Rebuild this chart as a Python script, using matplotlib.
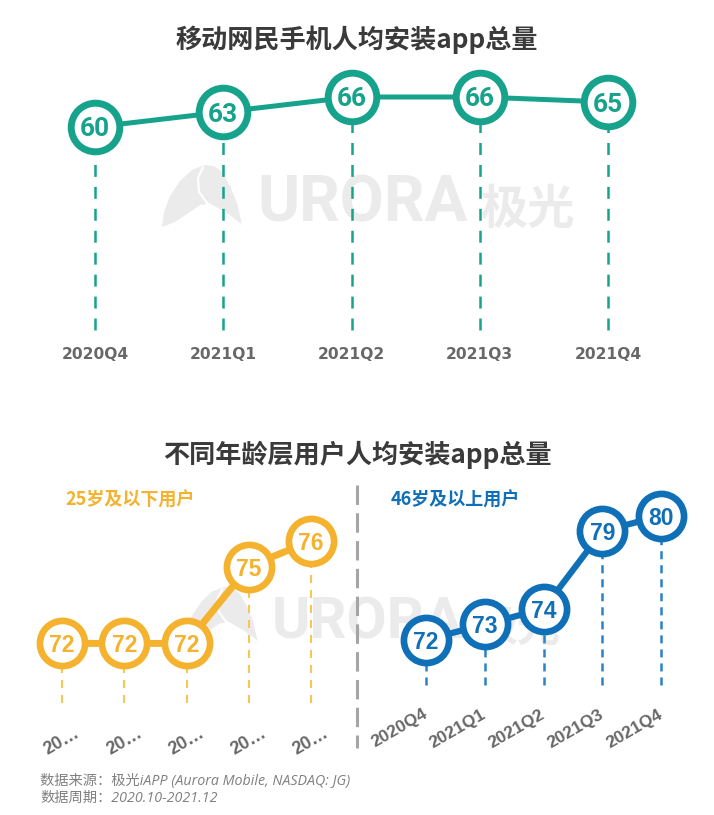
import matplotlib
matplotlib.use('Agg')
import matplotlib.pyplot as plt
from matplotlib.lines import Line2D
from matplotlib.patches import Polygon
import numpy as np

plt.rcParams['font.family'] = ['Noto Sans CJK SC', 'DejaVu Sans']
plt.rcParams['lines.scale_dashes'] = False

# ---------------- data ----------------
quarters = ['2020Q4', '2021Q1', '2021Q2', '2021Q3', '2021Q4']
all_users = [60, 63, 66, 66, 65]
young_users = [72, 72, 72, 75, 76]
senior_users = [72, 73, 74, 79, 80]
young_tick_labels = ['20…', '20…', '20…', '20…', '20…']

title_top = '移动网民手机人均安装app总量'
title_bottom = '不同年龄层用户人均安装app总量'
label_young = '25岁及以下用户'
label_senior = '46岁及以上用户'
footer_1 = '数据来源：极光iAPP (Aurora Mobile, NASDAQ: JG)'
footer_2 = '数据周期：2020.10-2021.12'

TEAL = '#17A38B'
ORANGE = '#F5B22E'
ORANGE_DASH = '#F8C657'
BLUE = '#0F70B7'
BLUE_DASH = '#2A83C6'
GRAY_TICK = '#686868'
WM = '#ebebeb'

W, H = 714, 815
fig = plt.figure(figsize=(W / 100, H / 100), dpi=100)


def fx(x):
    return x / W


def fy(y):
    return 1 - y / H


def px_axes(l, t, r, b):
    ax = fig.add_axes([l / W, 1 - b / H, (r - l) / W, (b - t) / H])
    ax.set_facecolor('none')
    for s in ax.spines.values():
        s.set_visible(False)
    ax.set_yticks([])
    ax.tick_params(axis='x', length=0)
    return ax


# ---------------- watermark ----------------
def watermark(x0, y0, s):
    outer = [(0, 62), (2, 47), (8, 31), (18, 16), (30, 5), (42, 0), (52, 1), (60, 7),
             (68, 21), (75, 38), (80, 60), (70, 53), (58, 45), (45, 39), (38, 40),
             (28, 47), (13, 57)]
    pts = [(fx(x0 + s * px), fy(y0 + s * py)) for px, py in outer]
    fig.add_artist(Polygon(pts, closed=True, facecolor=WM, edgecolor='none',
                           transform=fig.transFigure, zorder=-5))
    inner = [(41, 2), (36, 13), (37, 27), (45, 38), (63, 48), (78, 59)]
    fig.add_artist(Line2D([fx(x0 + s * px) for px, py in inner],
                          [fy(y0 + s * py) for px, py in inner],
                          color='white', lw=1.5, transform=fig.transFigure, zorder=-4))
    fig.text(fx(x0 + s * 95), fy(y0 + s * 57), 'URORA', family='Roboto', fontweight='bold',
             fontsize=46 * s, color=WM, ha='left', va='baseline', zorder=-5)
    fig.text(fx(x0 + s * 318), fy(y0 + s * 59), '极光', family='Noto Sans CJK SC',
             fontweight='bold', fontsize=34 * s, color=WM, ha='left', va='baseline', zorder=-5)


watermark(162, 165, 1.0)
watermark(185, 587, 0.91)


# ---------------- drawing helper ----------------
def draw_series(ax, vals, color, dash_color, ms, mew, lw, fs, y_end, dash_pat, dash_lw,
                fam, dy=0.0):
    x = np.arange(len(vals))
    ax.vlines(x, y_end, vals, colors=dash_color, linestyles=[(0, dash_pat)], lw=dash_lw, zorder=1)
    ax.plot(x, vals, color=color, lw=lw, zorder=2, solid_capstyle='butt')
    ax.plot(x, vals, ls='none', marker='o', ms=ms, mfc='white', mec=color, mew=mew, zorder=3)
    for xi, v in zip(x, vals):
        ax.text(xi, v + dy, str(v), ha='center', va='center_baseline', color=color, fontsize=fs,
                fontweight='bold', family=fam, zorder=4)
    return x


# ---------------- top chart ----------------
fig.text(0.5, fy(40), title_top, ha='center', va='center', fontsize=18.8,
         fontweight='bold', color='#3a3a3a')

ax1 = px_axes(31, 60, 672, 340)
ax1.set_xlim(-0.5, 4.5)
ax1.set_ylim(17.4, 73.4)
x1 = draw_series(ax1, all_users, TEAL, TEAL, ms=35, mew=5, lw=3.6, fs=19,
                 y_end=19.4, dash_pat=(8.6, 7.2), dash_lw=1.8,
                 fam=['Liberation Sans Narrow', 'Roboto'])
ax1.set_xticks(x1, quarters, fontweight='bold', family='DejaVu Sans')
ax1.tick_params(axis='x', pad=5, labelsize=11.2, labelcolor=GRAY_TICK)

# ---------------- bottom charts ----------------
fig.text(0.5, fy(455), title_bottom, ha='center', va='center', fontsize=18.8,
         fontweight='bold', color='#3a3a3a')

# left (25 and below)
ax2 = px_axes(31, 480, 342, 710)
ax2.set_xlim(-0.5, 4.5)
ax2.set_ylim(69.40, 78.38)
x2 = draw_series(ax2, young_users, ORANGE, ORANGE_DASH, ms=32.5, mew=4.8, lw=5, fs=16.5,
                 y_end=69.68, dash_pat=(5.8, 5.0), dash_lw=1.5, fam='Liberation Sans')
ax2.set_xticks(x2, young_tick_labels, fontweight='bold', family='Liberation Sans',
               rotation=30, ha='center', va='top')
ax2.tick_params(axis='x', pad=10.8, labelsize=13, labelcolor=GRAY_TICK)
fig.text(fx(65), fy(500), label_young, ha='left', va='center', fontsize=13,
         fontweight='bold', color=ORANGE)

# right (46 and above)
ax3 = px_axes(396.6, 480, 690.4, 700)
ax3.set_xlim(-0.5, 4.5)
ax3.set_ylim(68.13, 82.30)
x3 = draw_series(ax3, senior_users, BLUE, BLUE_DASH, ms=32.5, mew=4.8, lw=4.5, fs=16.5,
                 y_end=69.10, dash_pat=(5.8, 4.3), dash_lw=1.8, fam='Liberation Sans')
ax3.set_xticks(x3, quarters, fontweight='bold', family='Liberation Sans',
               rotation=30, ha='right', va='center', rotation_mode='anchor')
ax3.tick_params(axis='x', pad=9.4, labelsize=12.5, labelcolor=GRAY_TICK)
fig.text(fx(391), fy(500), label_senior, ha='left', va='center', fontsize=13,
         fontweight='bold', color=BLUE)

# divider
fig.add_artist(Line2D([fx(357), fx(357)], [fy(485), fy(748)], color='#a5a5a5', lw=2.2,
                      linestyle=(0, (14, 6)), transform=fig.transFigure))

# footer
fig.text(fx(40), fy(781), footer_1, ha='left', va='center', fontsize=10.3, style='italic',
         color='#808080', family=['Open Sans', 'Noto Sans CJK SC'])
fig.text(fx(40), fy(798), footer_2, ha='left', va='center', fontsize=10.3, style='italic',
         color='#808080', family=['Open Sans', 'Noto Sans CJK SC'])

fig.savefig('out.png', dpi=100, facecolor='white')
